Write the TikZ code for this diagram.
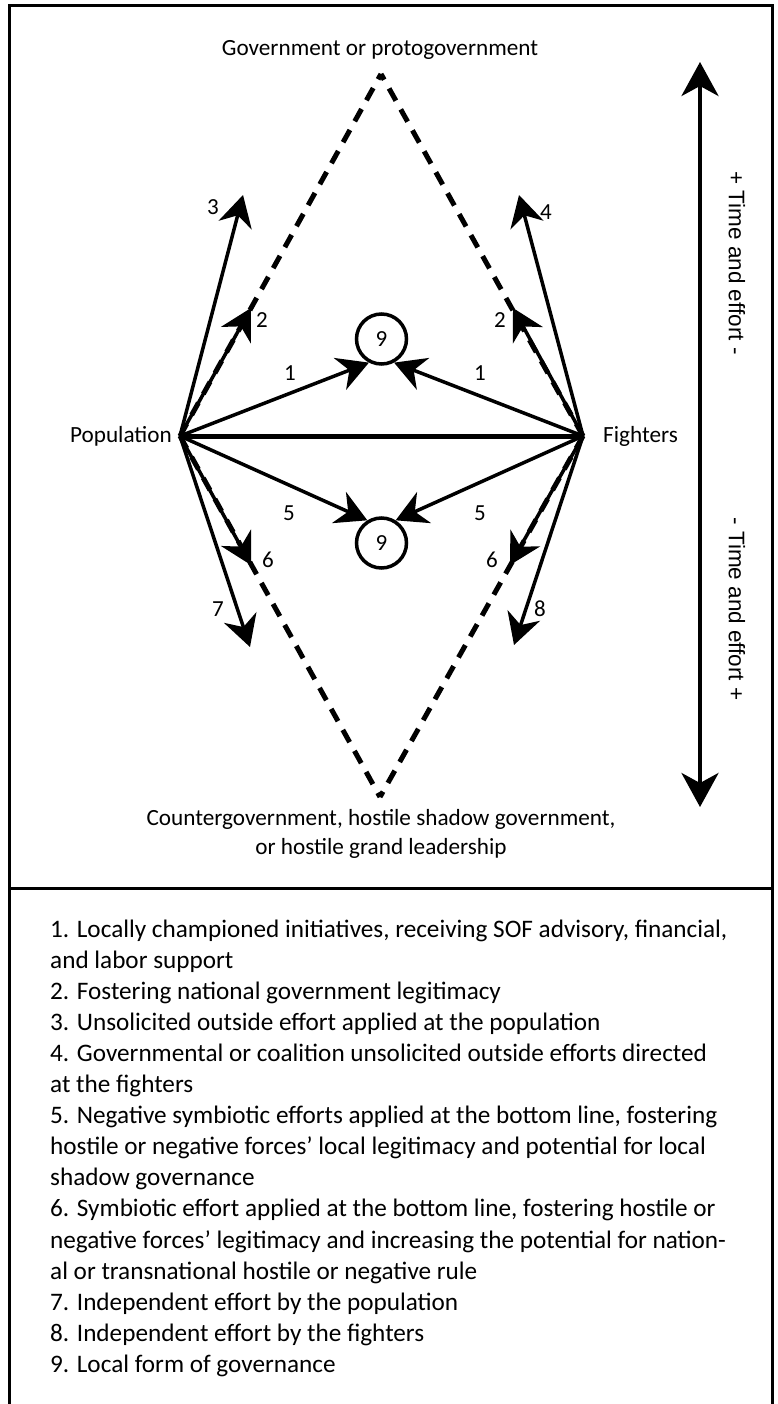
\documentclass[tikz,border=0pt]{standalone}
\usepackage{fontspec}
\setmainfont{Carlito}
\newfontfamily\rotfont{Liberation Sans}
\usetikzlibrary{arrows.meta}

\begin{document}
\begin{tikzpicture}[x=1pt,y=-1pt,
  txt/.style={inner sep=0pt, font=\fontsize{23.2}{28}\selectfont},
  num/.style={inner sep=0pt, font=\fontsize{23}{27}\selectfont},
  legendline/.style={inner sep=0pt, anchor=base west, font=\fontsize{25.2}{31}\selectfont},
  sidetext/.style={inner sep=0pt, rotate=-90, font=\rotfont\fontsize{22.5}{26}\selectfont},
  frame/.style={line width=3pt},
  dashline/.style={line width=5pt, dash pattern=on 14pt off 10pt},
  effort/.style={line width=3.5pt, -{Stealth[length=31pt,width=34pt,inset=10pt]}},
  governance/.style={circle, draw, line width=3.5pt, minimum size=50pt, inner sep=0pt,
    font=\fontsize{23}{27}\selectfont},
  timeaxis/.style={line width=4pt, {Stealth[length=34pt,width=37pt,inset=10pt]}-{Stealth[length=34pt,width=37pt,inset=10pt]}}
]
\useasboundingbox (0,0) rectangle (777,1404);

% outer frame and divider
\draw[frame] (9,1404) -- (9,6) -- (772,6) -- (772,1404);
\draw[frame] (9,888) -- (772,888);

% main points
\coordinate (pop) at (180,436);
\coordinate (fig) at (583,436);
\coordinate (gov) at (381,74);
\coordinate (ctr) at (380,797);

% labels of the main points
\node[txt, anchor=base] (govlbl) at (380,56) {Government or protogovernment};
\node[txt, anchor=base east] (poplbl) at (172,442) {Population};
\node[txt, anchor=base west] (figlbl) at (603,442) {Fighters};
\node[txt, anchor=base] (ctrlbl1) at (381,825) {Countergovernment, hostile shadow government,};
\node[txt, anchor=base] (ctrlbl2) at (381,854) {or hostile grand leadership};

% diamond of dashed lines
\draw[dashline] (pop) -- (gov);
\draw[dashline] (fig) -- (gov);
\draw[dashline] (pop) -- (ctr);
\draw[dashline] (fig) -- (ctr);

% bottom line between population and fighters
\draw[line width=5pt] (pop) -- (fig);

% local governance circles
\node[governance] (gtop) at (381.5,339) {9};
\node[governance] (gbot) at (381.5,543) {9};

% arrow end points
\coordinate (t2l) at (251,308);
\coordinate (t2r) at (513,308);
\coordinate (t3) at (243,195);
\coordinate (t4) at (519,195);
\coordinate (t6l) at (251,565);
\coordinate (t6r) at (510,565);
\coordinate (t7) at (250,647);
\coordinate (t8) at (514,645);

% efforts
\draw[effort] (pop) -- (gtop.242);
\draw[effort] (fig) -- (gtop.298);
\draw[effort] (pop) -- (gbot.122);
\draw[effort] (fig) -- (gbot.58);
\draw[effort] (pop) -- (t2l);
\draw[effort] (fig) -- (t2r);
\draw[effort] (pop) -- (t3);
\draw[effort] (fig) -- (t4);
\draw[effort] (pop) -- (t6l);
\draw[effort] (fig) -- (t6r);
\draw[effort] (pop) -- (t7);
\draw[effort] (fig) -- (t8);

% effort numbers
\node[num] (n1l) at (290,373) {1};
\node[num] (n1r) at (480,373) {1};
\node[num] (n2l) at (262,320) {2};
\node[num] (n2r) at (500,320) {2};
\node[num] (n3) at (213,207) {3};
\node[num] (n4) at (546,212) {4};
\node[num] (n5l) at (289,513) {5};
\node[num] (n5r) at (480,513) {5};
\node[num] (n6l) at (268,560) {6};
\node[num] (n6r) at (492,560) {6};
\node[num] (n7) at (218,609) {7};
\node[num] (n8) at (540,609) {8};

% time and effort axis
\coordinate (axtop) at (700,62);
\coordinate (axbot) at (700,807);
\draw[timeaxis] (axbot) -- (axtop);
\node[sidetext] (te1) at (737,263) {+ Time and effort -};
\node[sidetext] (te2) at (737,609) {- Time and effort +};

% legend
\node[legendline] (l1) at (50,937) {1. Locally championed initiatives, receiving SOF advisory, financial,};
\node[legendline] (l2) at (50,968.1) {and labor support};
\node[legendline] (l3) at (50,999.2) {2. Fostering national government legitimacy};
\node[legendline] (l4) at (50,1030.3) {3. Unsolicited outside effort applied at the population};
\node[legendline] (l5) at (50,1061.4) {4. Governmental or coalition unsolicited outside efforts directed};
\node[legendline] (l6) at (50,1092.5) {at the fighters};
\node[legendline] (l7) at (50,1123.6) {5. Negative symbiotic efforts applied at the bottom line, fostering};
\node[legendline] (l8) at (50,1154.7) {hostile or negative forces’ local legitimacy and potential for local};
\node[legendline] (l9) at (50,1185.8) {shadow governance};
\node[legendline] (l10) at (50,1216.9) {6. Symbiotic effort applied at the bottom line, fostering hostile or};
\node[legendline] (l11) at (50,1248) {negative forces’ legitimacy and increasing the potential for nation-};
\node[legendline] (l12) at (50,1279.1) {al or transnational hostile or negative rule};
\node[legendline] (l13) at (50,1310.2) {7. Independent effort by the population};
\node[legendline] (l14) at (50,1341.3) {8. Independent effort by the fighters};
\node[legendline] (l15) at (50,1372.4) {9. Local form of governance};
\end{tikzpicture}
\end{document}
